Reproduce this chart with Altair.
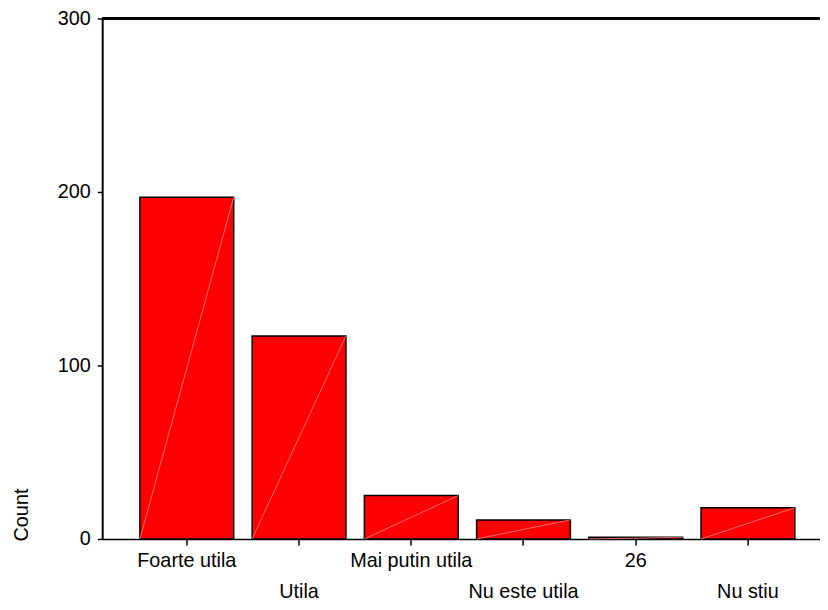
import altair as alt
import pandas as pd

categories = ["Foarte utila", "Utila", "Mai putin utila", "Nu este utila", "26", "Nu stiu"]
counts = [197, 117, 25, 11, 1, 18]
y_ticks = [0, 100, 200, 300]

df = pd.DataFrame({"cat": categories, "count": counts})
df["row"] = [i % 2 for i in range(len(df))]
df["zero"] = 0

FONT = "Liberation Sans"
W, H = 724, 525

xscale = alt.Scale(domain=categories, paddingInner=0.164, paddingOuter=0.28, align=0.6, round=False)
yscale = alt.Scale(domain=[0, 300], nice=False)

base = alt.Chart(df)

xaxis = alt.Axis(title=None, labels=False, ticks=True, tickSize=6, tickWidth=1.5,
                 tickColor="black", domainColor="black", domainWidth=1.5, grid=False)
yaxis = alt.Axis(values=y_ticks, title="Count", grid=False, domainColor="black", domainWidth=2,
                 tickSize=5, tickWidth=1.5, tickColor="black", labelFont=FONT, labelFontSize=20,
                 labelColor="black", labelPadding=7, titleFont=FONT, titleFontSize=20,
                 titleFontWeight="normal", titleColor="black", titleAngle=270, titleX=-81,
                 titleY=527, titleAlign="left", titleBaseline="middle")

bars = base.mark_bar(fill="#ff0000", stroke="black", strokeWidth=1.5).encode(
    x=alt.X("cat:N", scale=xscale, sort=categories, axis=xaxis),
    y=alt.Y("count:Q", scale=yscale, axis=yaxis),
)

diag = base.mark_rule(color="#ff8a8a", strokeWidth=0.8).encode(
    x=alt.X("cat:N", scale=xscale, sort=categories, bandPosition=0),
    x2=alt.X2("cat", bandPosition=1),
    y=alt.Y("zero:Q", scale=yscale),
    y2=alt.Y2("count"),
)

top = base.mark_rule(color="black", strokeWidth=2).encode(y=alt.datum(300))

lab1 = base.transform_filter("datum.row == 0").mark_text(
    font=FONT, fontSize=20, baseline="alphabetic", color="black").encode(
    x=alt.X("cat:N", scale=xscale, sort=categories), y=alt.value(H + 28), text="cat:N")
lab2 = base.transform_filter("datum.row == 1").mark_text(
    font=FONT, fontSize=20, baseline="alphabetic", color="black").encode(
    x=alt.X("cat:N", scale=xscale, sort=categories), y=alt.value(H + 60), text="cat:N")

chart = alt.layer(bars, diag, top, lab1, lab2).properties(
    width=W, height=H,
    autosize=alt.AutoSizeParams(type="none"),
    padding={"left": 95, "top": 8, "right": 0, "bottom": 61},
    background="white",
).configure_view(strokeWidth=0)

chart.save("out.html", embed_options={"renderer": "svg", "actions": False})
